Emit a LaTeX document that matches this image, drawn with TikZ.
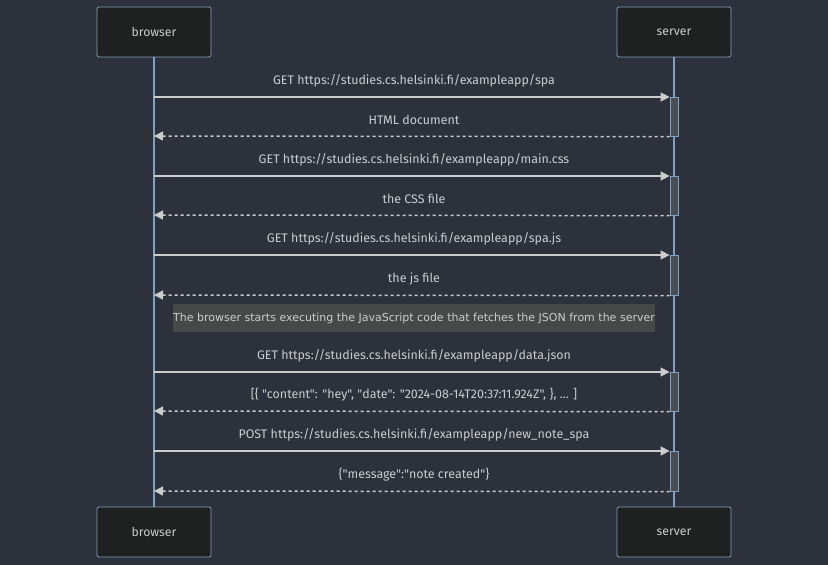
\documentclass[tikz,border=0pt]{standalone}
\usepackage{fontspec}
\setmainfont{Fira Sans}[Ligatures=TeXOff]
\newfontfamily\notefont{DejaVu Sans}
\usetikzlibrary{arrows.meta}
\definecolor{bg}{HTML}{2C313C}
\definecolor{boxfill}{HTML}{1F2020}
\definecolor{boxline}{HTML}{81A1C1}
\definecolor{txt}{HTML}{CCCCCC}
\definecolor{actfill}{HTML}{4A4E53}
\definecolor{notefill}{HTML}{474949}
\definecolor{arrowc}{HTML}{CCCCCC}
\tikzset{
  actor/.style={draw=boxline, fill=boxfill, line width=0.8bp, rounded corners=1.5bp,
    minimum width=114bp, minimum height=50bp, inner sep=0, text=txt, font=\fontsize{12.3}{14}\selectfont},
  lifeline/.style={draw=boxline, line width=1.2bp},
  act/.style={draw=boxline, fill=actfill, line width=0.8bp},
  req/.style={draw=arrowc, line width=1.5bp, -{Triangle[length=9bp,width=9bp]}},
  resp/.style={draw=arrowc, line width=1.5bp, dash pattern=on 3bp off 3bp, -{Triangle[length=9bp,width=9bp]}},
  lbl/.style={text=txt, font=\fontsize{12.5}{14}\selectfont, inner sep=0},
  notebox/.style={fill=notefill, text=txt, font=\notefont\fontsize{11.05}{13}\selectfont, minimum width=482bp, minimum height=28bp, inner sep=0},
}
\begin{document}
\begin{tikzpicture}[x=1bp,y=-1bp]
\fill[bg] (0,0) rectangle (828,565);
\useasboundingbox (0,0) rectangle (828,565);
% lifelines
\coordinate (bt) at (154,57);
\coordinate (bb) at (154,507);
\coordinate (st) at (674,57);
\coordinate (sb) at (674,507);
\draw[lifeline] (bt) -- (bb);
\draw[lifeline] (st) -- (sb);
% actors
\node[actor] (b1) at (154,32) {browser};
\node[actor] (s1) at (674,32) {server};
\node[actor] (b2) at (154,532) {browser};
\node[actor] (s2) at (674,532) {server};
% activation bars
\foreach \i/\ya/\yb in {1/97/136, 2/176/215, 3/255/295, 4/372/411, 5/451/491}{
  \node[act, minimum width=8bp, minimum height={\yb-\ya}, inner sep=0, anchor=north] (a\i) at (674,\ya) {};
}
% messages
\foreach \i/\ya/\yb/\req/\resp in {
  1/97/136/{GET https://studies.cs.helsinki.fi/exampleapp/spa}/{HTML document},
  2/176/215/{GET https://studies.cs.helsinki.fi/exampleapp/main.css}/{the CSS file},
  3/255/295/{GET https://studies.cs.helsinki.fi/exampleapp/spa.js}/{the js file},
  4/372/411/{GET https://studies.cs.helsinki.fi/exampleapp/data.json}/{[\{ "content": "hey", "date": "2024-08-14T20:37:11.924Z", \}, ... ]},
  5/451/491/{POST https://studies.cs.helsinki.fi/exampleapp/new\_note\_spa}/{\{"message":"note created"\}}}{
  \coordinate (rs\i) at (154,\ya);
  \coordinate (pe\i) at (154,\yb);
  \draw[req] (rs\i) -- (a\i.north west);
  \draw[resp] (a\i.south west) -- (pe\i);
  \node[lbl] (rl\i) at (414,\ya-16) {\req};
  \node[lbl] (pl\i) at (414,\yb-16) {\resp};
}
% note
\node[notebox] (note) at (414,318) {The browser starts executing the JavaScript code that fetches the JSON from the server};
\end{tikzpicture}
\end{document}
